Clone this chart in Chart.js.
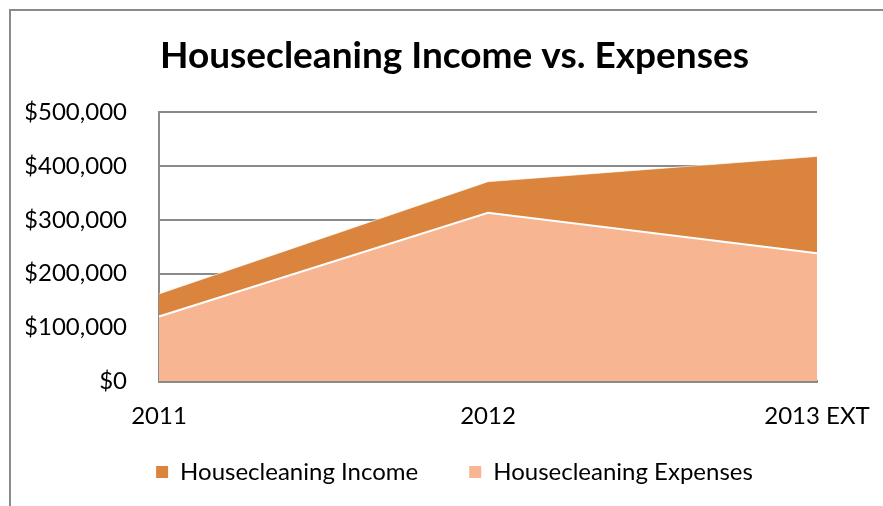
<!DOCTYPE html>
<html>
<head>
<meta charset="utf-8">
<title>Housecleaning Income vs. Expenses</title>
<script src="https://cdn.jsdelivr.net/npm/chart.js@4/dist/chart.umd.min.js"></script>
<style>
  html, body { margin: 0; padding: 0; background: #fff; }
  #wrap { width: 883px; height: 506px; position: relative; }
</style>
</head>
<body>
<div id="wrap"><canvas id="chart"></canvas></div>
<script>
// data
let years = ["2011", "2012", "2013 EXT"];
let income = [162000, 371000, 418000];
let expenses = [120000, 313000, 238000];
let yTicks = [0, 100000, 200000, 300000, 400000, 500000];

let fontName = "Lato, 'Open Sans', sans-serif";

// grey frame around the chart object + stretch legend box up under the x labels
let framePlugin = {
  id: "frame",
  afterLayout(chart) {
    chart.legend.top -= 22;
    chart.legend.height += 22;
  },
  beforeDraw(chart) {
    let ctx = chart.ctx;
    ctx.save();
    ctx.fillStyle = "#fff";
    ctx.fillRect(0, 0, chart.width, chart.height);
    ctx.strokeStyle = "#8a8a8a";
    ctx.lineWidth = 2;
    ctx.beginPath();
    ctx.moveTo(10, chart.height);
    ctx.lineTo(10, 10);
    ctx.lineTo(chart.width, 10);
    ctx.stroke();
    ctx.restore();
  }
};

let ctx = document.getElementById("chart").getContext("2d");
let myChart = new Chart(ctx, {
  type: "line",
  data: {
    labels: years,
    datasets: [
      {
        label: "Housecleaning Income",
        data: income,
        backgroundColor: "#db843e",
        borderColor: "rgba(255,255,255,0.6)",
        borderWidth: 1,
        fill: "origin",
        pointRadius: 0,
        tension: 0,
        order: 1
      },
      {
        label: "Housecleaning Expenses",
        data: expenses,
        backgroundColor: "#f8b592",
        borderColor: "#ffffff",
        borderWidth: 2,
        fill: "origin",
        pointRadius: 0,
        tension: 0,
        order: 0
      }
    ]
  },
  options: {
    responsive: true,
    maintainAspectRatio: false,
    animation: false,
    layout: { padding: { left: 26, right: 0, top: 0, bottom: 12 } },
    plugins: {
      title: {
        display: true,
        text: "Housecleaning Income vs. Expenses",
        color: "#000",
        font: { family: fontName, size: 37, weight: "bold", lineHeight: 1.2 },
        padding: { top: 34, bottom: 34 }
      },
      legend: {
        position: "bottom",
        maxHeight: 63,
        labels: {
          color: "#000",
          font: { family: fontName, size: 24 },
          boxWidth: 12,
          boxHeight: 12,
          padding: 51,
          generateLabels: (chart) => chart.data.datasets.map((ds, i) => ({
            text: ds.label,
            fillStyle: ds.backgroundColor,
            strokeStyle: ds.backgroundColor,
            lineWidth: 0,
            datasetIndex: i,
            hidden: false
          }))
        }
      },
      tooltip: { enabled: false }
    },
    scales: {
      x: {
        offset: false,
        grid: { display: false, tickLength: 21 },
        border: { display: true, color: "#8a8a8a", width: 3 },
        afterFit: (scale) => { scale.height = 50; },
        ticks: {
          color: "#000",
          font: { family: fontName, size: 24 },
          padding: 0,
          maxRotation: 0,
          autoSkip: false
        }
      },
      y: {
        min: 0,
        max: 500000,
        afterBuildTicks: (scale) => {
          scale.ticks = yTicks.map(v => ({ value: v }));
        },
        afterFit: (scale) => { scale.width = 133; },
        grid: { color: "#8a8a8a", lineWidth: 2, drawTicks: false },
        border: { display: true, color: "#8a8a8a", width: 2 },
        ticks: {
          color: "#000",
          font: { family: fontName, size: 24 },
          padding: 32,
          callback: (v) => "$" + v.toLocaleString("en-US")
        }
      },
      y2: {
        position: "right",
        display: true,
        grid: { display: false },
        border: { display: false },
        ticks: { display: false },
        afterFit: (scale) => { scale.width = 66; }
      }
    }
  },
  plugins: [framePlugin]
});
</script>
</body>
</html>
